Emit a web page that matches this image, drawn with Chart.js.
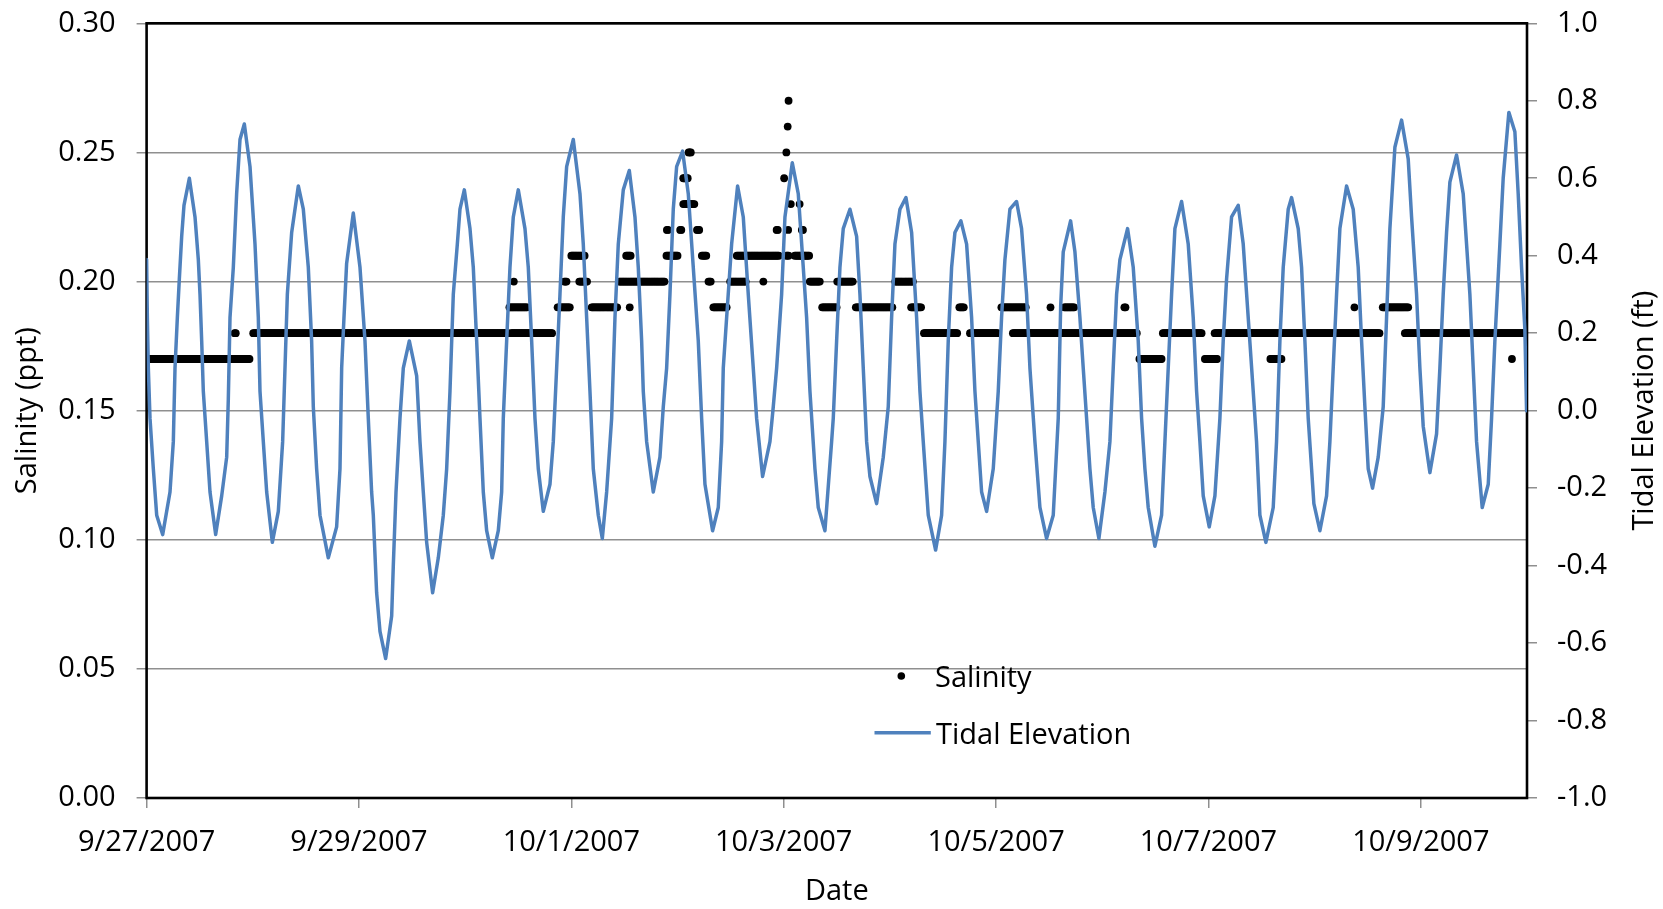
<!DOCTYPE html>
<html>
<head>
<meta charset="utf-8">
<script src="https://cdn.jsdelivr.net/npm/chart.js@4.4.1/dist/chart.umd.min.js"></script>
<style>
html,body{margin:0;padding:0;background:#fff;}
canvas{display:block;}
</style>
</head>
<body>
<canvas id="c" width="1663" height="909"></canvas>
<script>
// ---- Axis tick labels ----
const xTickLabels = ['9/27/2007','9/29/2007','10/1/2007','10/3/2007','10/5/2007','10/7/2007','10/9/2007'];
const xTickHours = [0, 48, 96, 144, 192, 240, 288];
const leftTickValues = [0, 0.05, 0.10, 0.15, 0.20, 0.25, 0.30];
const rightTickValues = [-1.0, -0.8, -0.6, -0.4, -0.2, 0.0, 0.2, 0.4, 0.6, 0.8, 1.0];

// ---- Tidal elevation (ft), hours since 9/27/2007 00:00 ----
const tideHours = [
  0, 0.17, 0.39, 0.77, 1.52, 2.28, 3.63, 5.29, 6.04, 6.42, 6.95, 7.40, 7.93, 8.45, 9.66,
  10.94, 11.69, 12.07, 12.45, 12.82, 13.58, 14.33, 15.61, 16.97, 18.10, 18.47, 18.85, 19.60, 20.35, 21.11, 22.09,
  23.37, 24.50, 25.25, 25.63, 26.38, 27.14, 28.42, 29.77, 30.75, 31.28, 31.81, 32.79, 34.29,
  35.42, 36.55, 37.30, 37.68, 38.43, 39.19, 41.07, 42.95, 43.71, 44.09, 44.61, 45.21, 46.72,
  48.23, 49.36, 50.11, 50.86, 51.24, 51.99, 52.75, 54.03, 55.39, 55.76, 56.37, 57.27, 58.02, 59.38,
  61.04, 61.79, 62.54, 63.30, 64.65, 65.93, 67.06, 67.82, 68.57, 69.32, 70.23, 70.83, 71.81,
  73.09, 73.84, 74.60, 75.35, 76.10, 76.86, 78.14, 79.49, 80.25, 80.62, 81.38, 82.13, 82.88, 84.01,
  85.52, 86.27, 87.03, 87.78, 88.53, 89.66, 91.17, 91.92, 92.68, 93.43, 94.18, 94.94, 96.44,
  97.95, 98.70, 99.46, 100.21, 100.96, 102.09, 103.00, 103.98, 105.11, 105.86, 106.61, 107.74, 109.10,
  110.38, 111.13, 111.89, 112.26, 113.02, 114.52, 116.03, 116.78, 117.54, 118.29, 119.04, 119.80, 121.15,
  122.43, 123.56, 124.69, 125.45, 126.20, 127.93, 129.21, 129.97, 130.34, 131.10, 132.23, 133.58,
  134.86, 135.99, 137.12, 137.88, 139.23, 140.89, 141.64, 142.40, 143.53, 144.28, 145.94,
  147.29, 148.42, 149.18, 149.93, 151.06, 151.81, 153.32, 154.83, 155.20, 155.96, 156.71, 157.46, 158.97,
  160.48, 161.23, 161.98, 162.74, 163.49, 165.00, 166.50, 167.63, 168.39, 169.14, 170.27, 171.63,
  172.91, 174.04, 174.79, 175.54, 176.67, 178.33, 179.69, 180.44, 181.19, 181.95, 182.70, 184.05,
  185.34, 186.47, 187.22, 187.97, 188.73, 189.86, 191.36, 192.49, 193.24, 194.00, 195.13, 196.63,
  197.76, 198.89, 199.65, 200.78, 201.91, 203.41, 204.92, 206.05, 206.60, 207.18, 208.84,
  209.82, 210.95, 211.70, 212.46, 213.21, 213.96, 215.24, 216.60, 217.73, 218.48, 219.24, 219.99, 221.72,
  223.00, 224.13, 224.89, 225.64, 226.39, 227.90, 229.41, 230.16, 230.91, 231.67, 232.42, 233.93,
  235.43, 236.56, 237.32, 238.07, 238.82, 240.18, 241.46, 242.59, 243.34, 244.10, 245.23, 246.73,
  247.86, 248.99, 250.12, 250.87, 251.63, 252.98, 254.64, 255.39, 256.15, 256.90, 258.03, 258.79,
  260.29, 261.05, 261.80, 262.55, 263.31, 263.83, 265.19, 266.70, 267.45, 268.20, 268.96, 269.71, 271.22,
  272.72, 273.85, 274.61, 275.36, 276.11, 277.09, 278.37, 279.50, 280.26, 281.01, 282.14, 283.65,
  285.15, 285.91, 287.04, 287.79, 288.54, 290.05, 291.56, 292.31, 293.06, 293.82, 294.57, 296.08,
  297.58, 298.34, 299.09, 299.84, 300.60, 301.88, 303.24, 303.99, 304.74, 305.87, 306.62, 307.90,
  309.26, 310.01, 310.77, 311.52, 311.90
];
const tideFt = [
  0.39, 0.24, 0.11, -0.02, -0.15, -0.27, -0.32, -0.21, -0.08, 0.11, 0.24, 0.34, 0.45, 0.53, 0.60,
  0.50, 0.39, 0.30, 0.18, 0.05, -0.08, -0.21, -0.32, -0.22, -0.12, 0.03, 0.24, 0.37, 0.56, 0.70, 0.74,
  0.63, 0.43, 0.24, 0.05, -0.08, -0.21, -0.34, -0.26, -0.08, 0.11, 0.30, 0.46, 0.58,
  0.52, 0.37, 0.18, 0.01, -0.15, -0.27, -0.38, -0.30, -0.15, 0.11, 0.24, 0.38, 0.51,
  0.37, 0.18, -0.02, -0.21, -0.27, -0.47, -0.57, -0.64, -0.53, -0.40, -0.21, -0.02, 0.11, 0.18,
  0.09, -0.08, -0.21, -0.34, -0.47, -0.38, -0.27, -0.15, 0.05, 0.30, 0.43, 0.52, 0.57,
  0.47, 0.37, 0.18, -0.02, -0.21, -0.31, -0.38, -0.31, -0.21, -0.02, 0.18, 0.37, 0.50, 0.57,
  0.47, 0.37, 0.18, -0.02, -0.15, -0.26, -0.19, -0.08, 0.11, 0.30, 0.50, 0.63, 0.70,
  0.56, 0.43, 0.24, 0.05, -0.15, -0.27, -0.33, -0.21, -0.02, 0.24, 0.43, 0.57, 0.62,
  0.50, 0.37, 0.18, 0.05, -0.08, -0.21, -0.12, 0.01, 0.11, 0.30, 0.52, 0.63, 0.67,
  0.56, 0.37, 0.18, -0.02, -0.19, -0.31, -0.25, -0.08, 0.11, 0.24, 0.43, 0.58,
  0.50, 0.30, 0.11, -0.02, -0.17, -0.08, 0.01, 0.11, 0.30, 0.50, 0.64,
  0.56, 0.37, 0.24, 0.05, -0.15, -0.25, -0.31, -0.08, -0.02, 0.18, 0.37, 0.47, 0.52,
  0.45, 0.30, 0.11, -0.08, -0.17, -0.24, -0.12, 0.01, 0.24, 0.43, 0.52, 0.55,
  0.46, 0.24, 0.05, -0.08, -0.27, -0.36, -0.27, -0.08, 0.18, 0.37, 0.46, 0.49,
  0.43, 0.24, 0.05, -0.08, -0.21, -0.26, -0.15, 0.05, 0.24, 0.39, 0.52, 0.54,
  0.47, 0.30, 0.11, -0.08, -0.25, -0.33, -0.27, -0.02, 0.27, 0.41, 0.49,
  0.41, 0.24, 0.11, -0.02, -0.15, -0.25, -0.33, -0.21, -0.08, 0.11, 0.30, 0.39, 0.47,
  0.37, 0.18, -0.02, -0.15, -0.25, -0.35, -0.27, -0.08, 0.11, 0.30, 0.47, 0.54,
  0.43, 0.24, 0.05, -0.08, -0.22, -0.30, -0.22, -0.02, 0.18, 0.34, 0.50, 0.53,
  0.43, 0.24, 0.05, -0.08, -0.27, -0.34, -0.25, -0.08, 0.18, 0.37, 0.52, 0.55,
  0.47, 0.37, 0.18, -0.02, -0.15, -0.24, -0.31, -0.22, -0.08, 0.11, 0.30, 0.47, 0.58,
  0.52, 0.37, 0.18, 0.01, -0.15, -0.20, -0.12, 0.01, 0.24, 0.47, 0.68, 0.75,
  0.65, 0.50, 0.30, 0.11, -0.04, -0.16, -0.06, 0.11, 0.30, 0.46, 0.59, 0.66,
  0.56, 0.43, 0.30, 0.11, -0.08, -0.25, -0.19, -0.02, 0.18, 0.43, 0.60, 0.77,
  0.72, 0.56, 0.37, 0.21, 0.00
];

// ---- Salinity (ppt): runs of equal readings (first and last sample hour, level) ----
const salStartH = [
  0.0, 19.9, 24.1, 82.4, 82.0, 83.0, 92.9, 94.4, 97.8, 96.0,
  100.6, 109.2, 106.8, 108.4, 117.5, 117.6, 120.6, 124.4, 121.3, 121.3,
  122.5, 125.5, 127.0, 128.1, 131.9, 133.4, 144.6, 146.5, 139.4, 142.4,
  145.0, 148.1, 145.6, 147.6, 144.1, 144.6, 144.9, 145.1, 149.9, 152.7,
  156.1, 160.3, 169.2, 172.8, 175.7, 183.7, 186.1, 193.2, 195.8, 204.3,
  207.4, 221.0, 224.4, 229.7, 239.2, 241.4, 254.0, 273.0, 279.4, 284.4,
  308.6
];
const salEndH = [
  23.3, 20.3, 81.6, 91.7, 86.1, 83.0, 95.8, 95.1, 99.6, 99.0,
  106.4, 109.2, 117.2, 109.6, 120.2, 117.9, 120.9, 125.0, 123.9, 122.4,
  123.1, 126.5, 127.7, 131.1, 135.6, 143.1, 145.2, 149.9, 139.4, 142.7,
  145.0, 148.4, 145.6, 147.6, 144.1, 144.6, 144.9, 145.1, 152.2, 156.1,
  159.6, 168.6, 173.2, 175.1, 183.3, 184.8, 192.4, 198.9, 224.0, 204.3,
  209.7, 221.3, 229.4, 238.6, 242.1, 278.8, 256.5, 273.0, 285.3, 311.7,
  308.6
];
const salLevel = [
  0.17, 0.18, 0.18, 0.18, 0.19, 0.20, 0.19, 0.20, 0.20, 0.21,
  0.19, 0.19, 0.20, 0.21, 0.21, 0.22, 0.22, 0.22, 0.23, 0.24,
  0.25, 0.21, 0.20, 0.19, 0.20, 0.21, 0.21, 0.21, 0.20, 0.22,
  0.22, 0.22, 0.23, 0.23, 0.24, 0.25, 0.26, 0.27, 0.20, 0.19,
  0.20, 0.19, 0.20, 0.19, 0.18, 0.19, 0.18, 0.19, 0.18, 0.19,
  0.19, 0.19, 0.17, 0.18, 0.17, 0.18, 0.17, 0.19, 0.19, 0.18,
  0.17
];
const salSampleStepH = 0.25;

// ---- build library datasets ----
const tidePoints = tideHours.map((h, i) => ({ x: h, y: tideFt[i] }));
const salPoints = [];
for (let i = 0; i < salLevel.length; i++) {
  for (let t = salStartH[i]; t <= salEndH[i] + 1e-9; t += salSampleStepH) {
    salPoints.push({ x: t, y: salLevel[i] });
  }
}

const FONT = "'Open Sans', sans-serif";
const FS = 29;
const BLUE = '#4F81BD';
const GRID = '#8f8f8f';

const framePlugin = {
  id: 'frame',
  beforeDatasetsDraw(chart) {
    const { ctx, chartArea: a } = chart;
    ctx.save();
    ctx.strokeStyle = '#000';
    ctx.lineWidth = 2.6;
    ctx.strokeRect(a.left, a.top, a.right - a.left, a.bottom - a.top);
    ctx.restore();
  }
};

const extrasPlugin = {
  id: 'extras',
  afterDraw(chart) {
    const { ctx, chartArea: a } = chart;
    ctx.save();
    ctx.fillStyle = '#000';
    ctx.font = FS + 'px ' + FONT;
    // right axis title (reads bottom-to-top)
    ctx.save();
    ctx.translate(1653, (a.top + a.bottom) / 2);
    ctx.rotate(-Math.PI / 2);
    ctx.textAlign = 'center';
    ctx.textBaseline = 'alphabetic';
    ctx.fillText('Tidal Elevation (ft)', 0, 0);
    ctx.restore();
    // legend
    const names = chart.data.datasets.map(d => d.label);
    ctx.textAlign = 'left';
    ctx.textBaseline = 'alphabetic';
    ctx.beginPath();
    ctx.arc(901.3, 676, 3.8, 0, Math.PI * 2);
    ctx.fill();
    ctx.fillText(names[1], 935, 686.7);
    ctx.strokeStyle = BLUE;
    ctx.lineWidth = 3.5;
    ctx.beginPath();
    ctx.moveTo(874.5, 732.7);
    ctx.lineTo(930.8, 732.7);
    ctx.stroke();
    ctx.fillText(names[0], 936, 744);
    ctx.restore();
  }
};

function noVerticalOverflow(s, w) {
  s.width = w;
  s.paddingTop = 0;
  s.paddingBottom = 0;
}

function build() {
  new Chart(document.getElementById('c'), {
    type: 'scatter',
    data: {
      datasets: [
        { label: 'Tidal Elevation', data: tidePoints, yAxisID: 'y1', showLine: true,
          borderColor: BLUE, backgroundColor: BLUE, borderWidth: 3.5, pointRadius: 0,
          tension: 0, fill: false, order: 0, borderJoinStyle: 'round', borderCapStyle: 'round' },
        { label: 'Salinity', data: salPoints, yAxisID: 'y', showLine: false,
          pointRadius: 3.9, pointBackgroundColor: '#000', pointBorderColor: '#000',
          pointBorderWidth: 0, order: 1 }
      ]
    },
    options: {
      responsive: false, animation: false, devicePixelRatio: 1, events: [],
      layout: { padding: { top: 23.3, left: 0, right: 0, bottom: 0 } },
      plugins: { legend: { display: false }, tooltip: { enabled: false } },
      scales: {
        x: {
          type: 'linear', position: 'bottom', min: 0, max: 312,
          afterFit: s => { s.height = 111; s.paddingLeft = 0; s.paddingRight = 0; },
          afterBuildTicks: s => { s.ticks = xTickHours.map(v => ({ value: v })); },
          ticks: { callback: (v, i) => xTickLabels[i], color: '#000',
                   font: { family: FONT, size: FS }, padding: 17, maxRotation: 0, autoSkip: false },
          grid: { drawOnChartArea: false, drawTicks: true, tickLength: 10, color: GRID, lineWidth: 1.5 },
          border: { display: false },
          title: { display: true, text: 'Date', color: '#000', font: { family: FONT, size: FS },
                   padding: { top: 0, bottom: 0 } }
        },
        y: {
          position: 'left', min: 0, max: 0.3,
          afterFit: s => noVerticalOverflow(s, 146.6),
          afterBuildTicks: s => { s.ticks = leftTickValues.map(v => ({ value: v })); },
          ticks: { callback: v => v.toFixed(2), color: '#000', font: { family: FONT, size: FS }, padding: 21 },
          grid: { color: GRID, lineWidth: 1.5, drawTicks: true, tickLength: 10 },
          border: { display: false },
          title: { display: true, text: 'Salinity (ppt)', color: '#000', font: { family: FONT, size: FS },
                   padding: { top: 10, bottom: 0 } }
        },
        y1: {
          position: 'right', min: -1, max: 1,
          afterFit: s => noVerticalOverflow(s, 136),
          afterBuildTicks: s => { s.ticks = rightTickValues.map(v => ({ value: v })); },
          ticks: { callback: v => (Math.abs(v) < 1e-9 ? 0 : v).toFixed(1), color: '#000',
                   font: { family: FONT, size: FS }, padding: 20 },
          grid: { drawOnChartArea: false, drawTicks: true, tickLength: 10, color: GRID, lineWidth: 1.5 },
          border: { display: false }
        }
      }
    },
    plugins: [framePlugin, extrasPlugin]
  });
}

if (document.fonts && document.fonts.load) {
  document.fonts.load(FS + 'px "Open Sans"').then(build, build);
} else {
  build();
}
</script>
</body>
</html>
